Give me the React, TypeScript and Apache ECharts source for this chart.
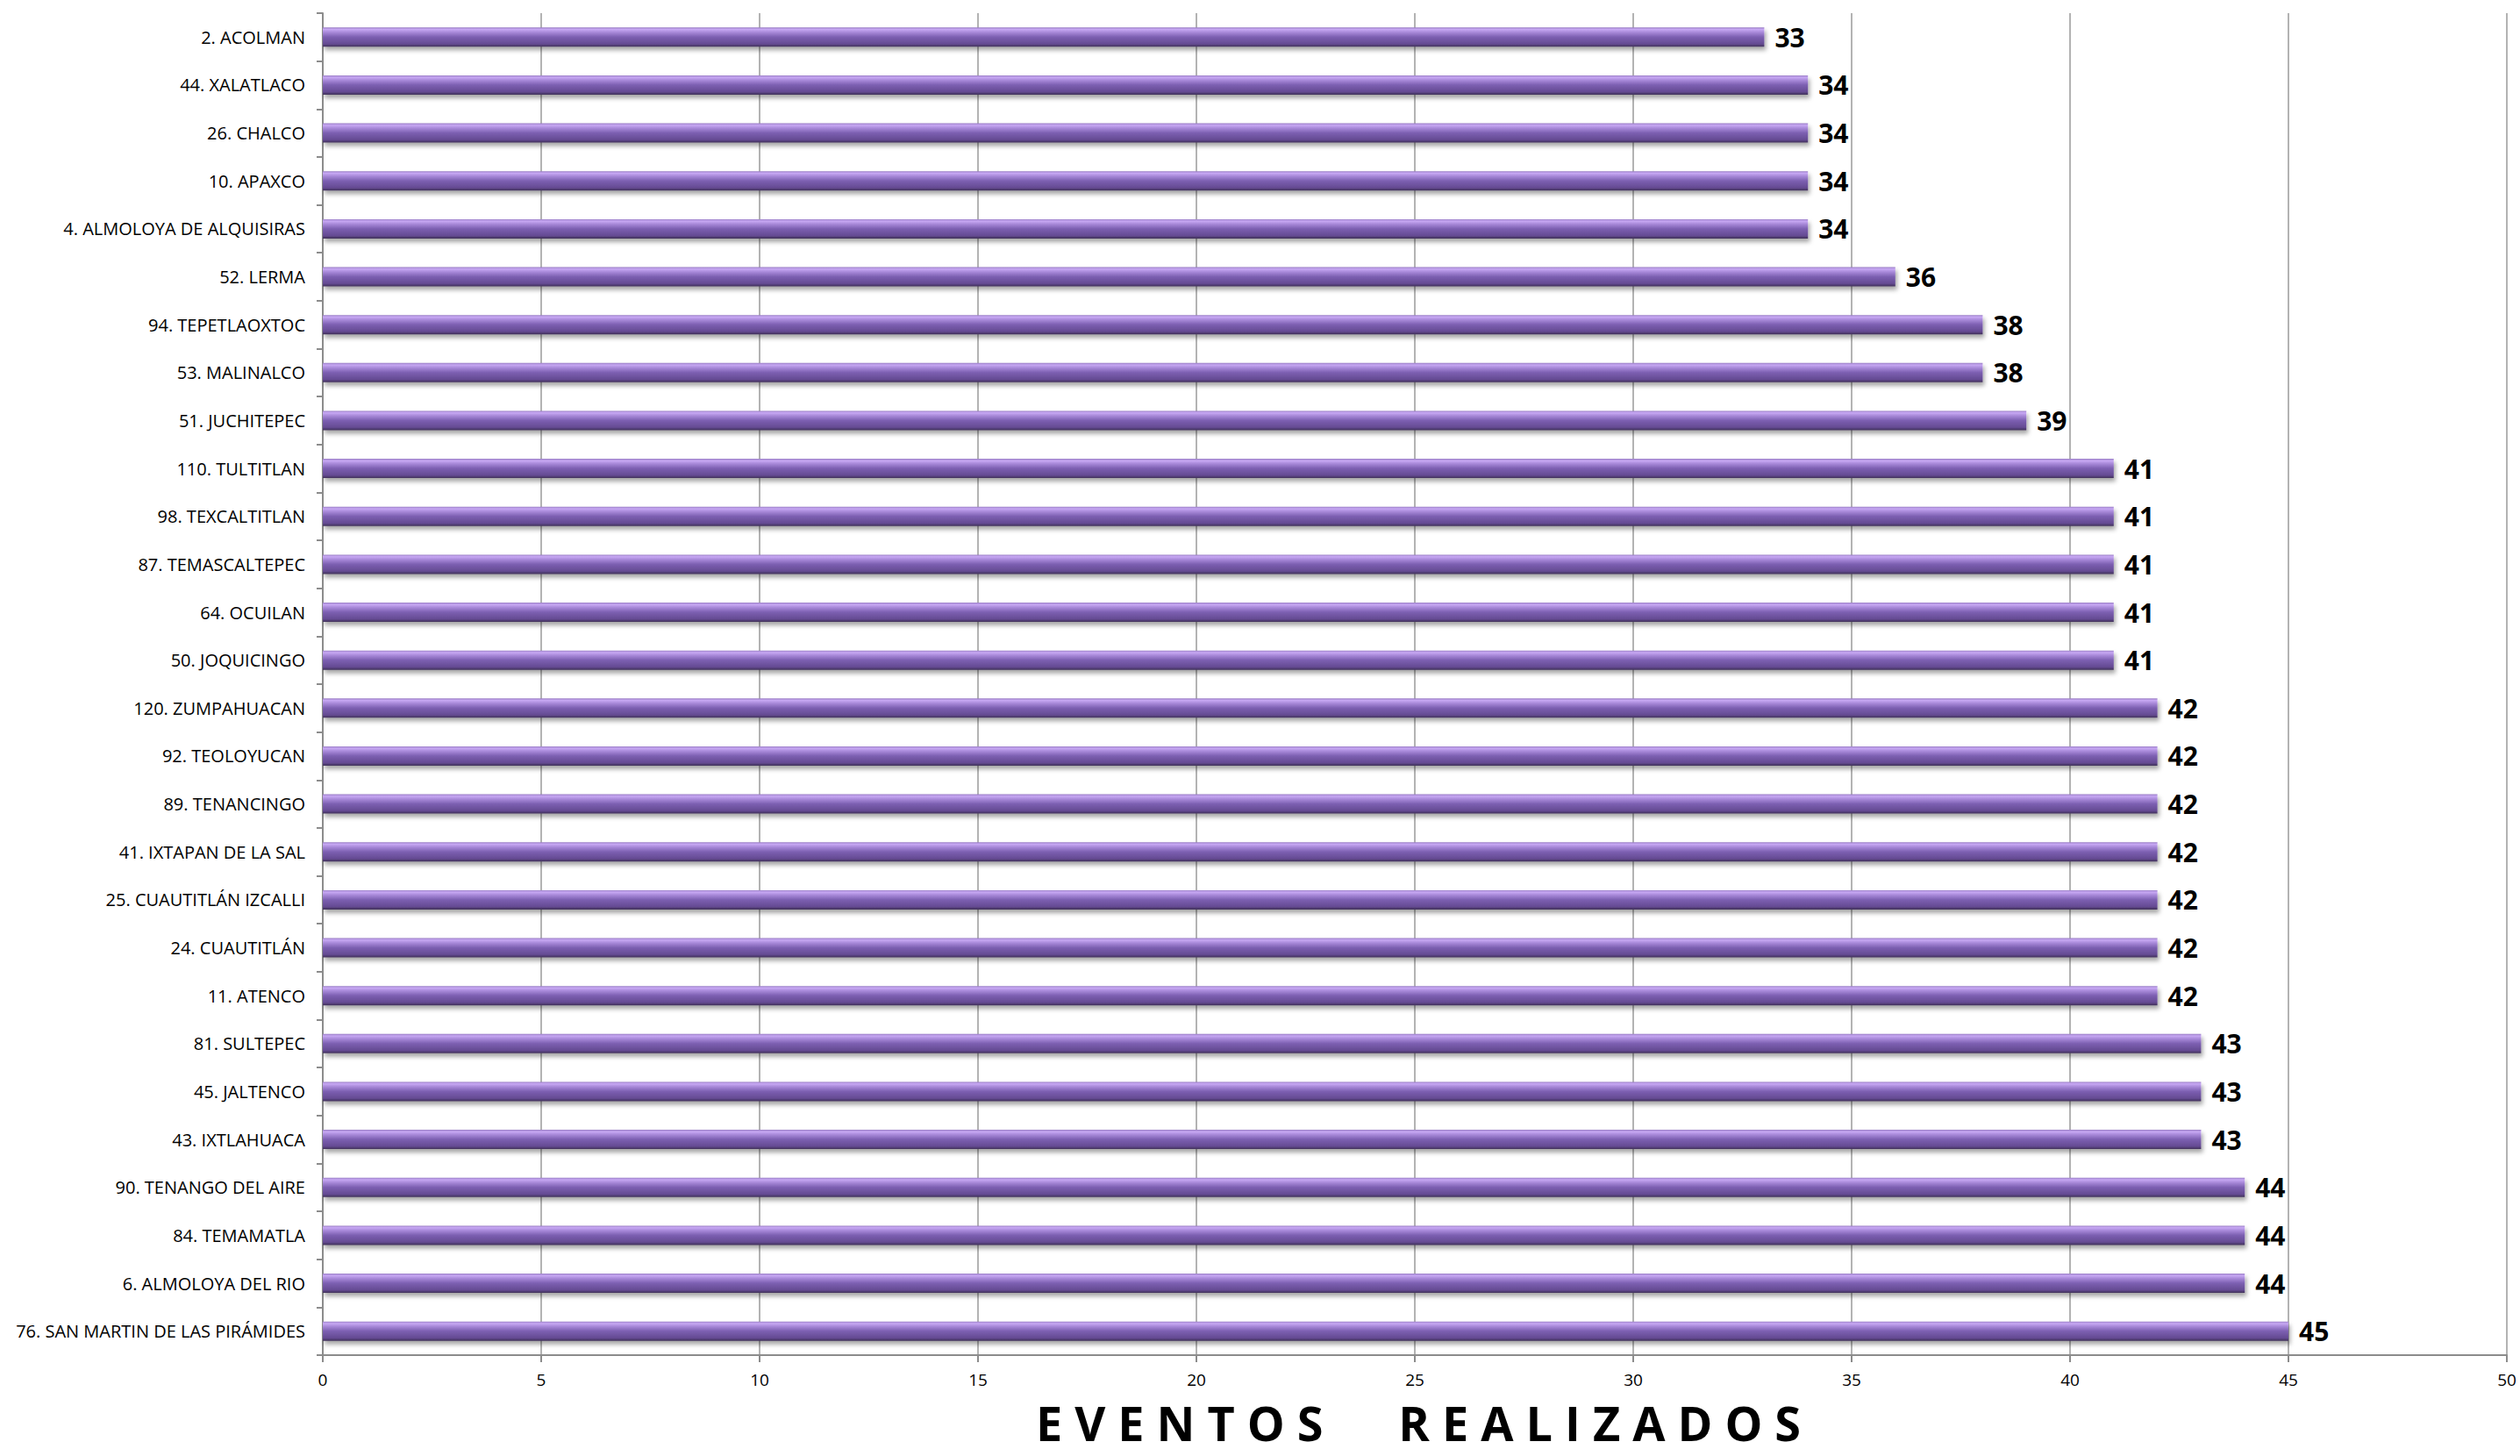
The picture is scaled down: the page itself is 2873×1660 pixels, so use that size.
import React, { useEffect, useRef } from "react";
import * as echarts from "echarts";

const categories = [
  "2. ACOLMAN",
  "44. XALATLACO",
  "26. CHALCO",
  "10. APAXCO",
  "4. ALMOLOYA DE ALQUISIRAS",
  "52. LERMA",
  "94. TEPETLAOXTOC",
  "53. MALINALCO",
  "51. JUCHITEPEC",
  "110. TULTITLAN",
  "98. TEXCALTITLAN",
  "87. TEMASCALTEPEC",
  "64. OCUILAN",
  "50. JOQUICINGO",
  "120. ZUMPAHUACAN",
  "92. TEOLOYUCAN",
  "89. TENANCINGO",
  "41. IXTAPAN DE LA SAL",
  "25. CUAUTITLÁN IZCALLI",
  "24. CUAUTITLÁN",
  "11. ATENCO",
  "81. SULTEPEC",
  "45. JALTENCO",
  "43. IXTLAHUACA",
  "90. TENANGO DEL AIRE",
  "84. TEMAMATLA",
  "6. ALMOLOYA DEL RIO",
  "76. SAN MARTIN DE LAS PIRÁMIDES",
];

const eventos = [
  33, 34, 34, 34, 34, 36, 38, 38, 39, 41, 41, 41, 41, 41, 42, 42, 42, 42, 42,
  42, 42, 43, 43, 43, 44, 44, 44, 45,
];

const axisTitleWords = ["EVENTOS", "REALIZADOS"];

function spacedTitle(words: string[]) {
  return words
    .map((w) => w.split("").map((c) => "{t|" + c + "}").join("{s| }"))
    .join("{w| }");
}

export default function App() {
  const ref = useRef<HTMLDivElement>(null);
  useEffect(() => {
    document.body.style.margin = "0";
    const chart = echarts.init(ref.current!, null, { renderer: "svg" });
    const labelFont = "'Liberation Sans Narrow', 'Open Sans', sans-serif";
    const titleFont = "'Open Sans', sans-serif";
    chart.setOption({
      animation: false,
      backgroundColor: "#ffffff",
      grid: { left: 368, right: 15, top: 15, bottom: 115, containLabel: false },
      graphic: [
        {
          type: "text",
          x: 1617,
          y: 1622,
          style: {
            text: spacedTitle(axisTitleWords),
            fontFamily: titleFont,
            fontWeight: "bold",
            fontSize: 54,
            fill: "#000",
            align: "center",
            verticalAlign: "middle",
            rich: {
              t: { fontFamily: titleFont, fontWeight: "bold", fontSize: 54, lineHeight: 54, fill: "#000" },
              s: { width: 14, fontSize: 54, lineHeight: 54 },
              w: { width: 86, fontSize: 54, lineHeight: 54 },
            },
          },
        },
      ],
      xAxis: {
        type: "value",
        min: 0,
        max: 50,
        interval: 5,
        axisLine: { show: true, lineStyle: { color: "#8c8c8c", width: 2 } },
        axisTick: { show: true, length: 8, lineStyle: { color: "#8c8c8c", width: 2 } },
        axisLabel: { color: "#000", fontSize: 19, fontFamily: labelFont, margin: 18 },
        splitLine: { show: true, lineStyle: { color: "#9a9a9a", width: 1.5 } },
      },
      yAxis: {
        type: "category",
        data: categories,
        inverse: true,
        axisLine: { show: true, lineStyle: { color: "#8c8c8c", width: 2 } },
        axisTick: { show: true, length: 7, lineStyle: { color: "#8c8c8c", width: 2 } },
        axisLabel: { color: "#000", fontSize: 20, fontFamily: labelFont, margin: 20 },
      },
      series: [
        {
          type: "bar",
          data: eventos,
          barWidth: 22,
          itemStyle: {
            color: new echarts.graphic.LinearGradient(0, 0, 0, 1, [
              { offset: 0, color: "#9a7ec6" },
              { offset: 0.1, color: "#c7a8f3" },
              { offset: 0.25, color: "#a889d9" },
              { offset: 0.5, color: "#7c5fb1" },
              { offset: 0.85, color: "#654b93" },
              { offset: 1, color: "#3f3058" },
            ]),
            shadowColor: "rgba(0,0,0,0.35)",
            shadowBlur: 5,
            shadowOffsetY: 4,
            shadowOffsetX: 2,
          },
          label: {
            show: true,
            position: "right",
            distance: 12,
            color: "#000",
            fontSize: 30,
            fontWeight: "bold",
            fontFamily: "'Open Sans', sans-serif",
          },
        },
      ],
    });
    return () => chart.dispose();
  }, []);
  return <div ref={ref} style={{ width: 2873, height: 1660 }} />;
}
